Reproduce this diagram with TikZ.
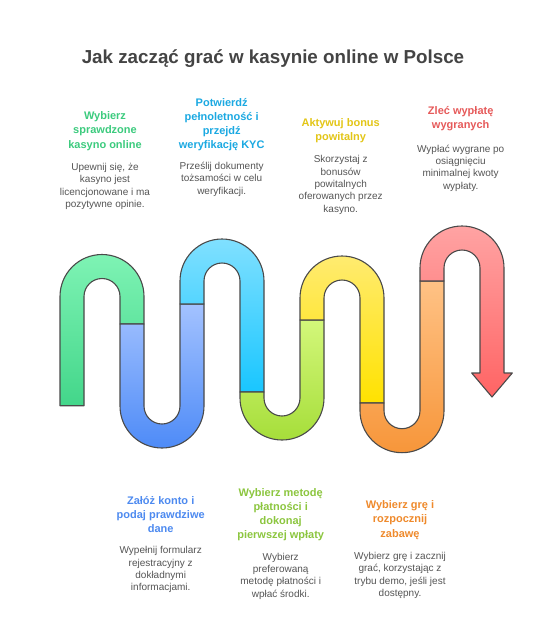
\documentclass[tikz,border=0pt]{standalone}
\usepackage{fontspec}
\setmainfont{Liberation Sans}
\definecolor{edge}{HTML}{4A4A4A}
\definecolor{ttl}{HTML}{444444}
\definecolor{desc}{HTML}{555555}
\definecolor{cgreen}{HTML}{3CCB7E}
\definecolor{ccyan}{HTML}{1BA9E2}
\definecolor{cyellow}{HTML}{E3C617}
\definecolor{cred}{HTML}{E65A5A}
\definecolor{cblue}{HTML}{4D8AF0}
\definecolor{clime}{HTML}{8CC63F}
\definecolor{corange}{HTML}{EF8A2C}
\definecolor{gT}{HTML}{7EF3B4}\definecolor{gB}{HTML}{43D68A}
\definecolor{bT}{HTML}{A3C2FF}\definecolor{bB}{HTML}{4E8BF7}
\definecolor{cT}{HTML}{80E0FF}\definecolor{cB}{HTML}{19C6FF}
\definecolor{lT}{HTML}{D3F77A}\definecolor{lB}{HTML}{A6DE3A}
\definecolor{yT}{HTML}{FFEB70}\definecolor{yB}{HTML}{FFE200}
\definecolor{oT}{HTML}{FFC285}\definecolor{oB}{HTML}{F7963A}
\definecolor{rT}{HTML}{FFA3A3}\definecolor{rB}{HTML}{FF6464}
\newcommand{\archseg}[6]{%
  \path[draw=edge, line width=1.1pt, line join=round, top color=#5, bottom color=#6]
    (#1-12,-#3) -- (#1-12,-#2) arc(180:0:42) -- (#1+72,-#4) -- (#1+48,-#4)
    -- (#1+48,-#2) arc(0:180:18) -- (#1+12,-#3) -- cycle;}
\newcommand{\useg}[6]{%
  \path[draw=edge, line width=1.1pt, line join=round, top color=#5, bottom color=#6]
    (#1-12,-#3) -- (#1-12,-#2) arc(180:360:42) -- (#1+72,-#4) -- (#1+48,-#4)
    -- (#1+48,-#2) arc(360:180:18) -- (#1+12,-#3) -- cycle;}
\tikzset{
  head/.style={align=center, font=\fontsize{11}{14.2}\selectfont\bfseries, inner sep=0pt},
  body/.style={align=center, font=\fontsize{10}{12.3}\selectfont, text=desc, inner sep=0pt}
}
\begin{document}
\begin{tikzpicture}[x=1pt,y=1pt]
\useasboundingbox[fill=white] (0,0) rectangle (546,-622);
% title
\node[font=\fontsize{18.8}{22}\selectfont\bfseries, text=ttl] (title) at (273,-59) {Jak zacząć grać w kasynie online w Polsce};
% snake
\archseg{72}{296.5}{405.7}{324}{gT}{gB}
\useg{132}{406}{324}{304}{bT}{bB}
\archseg{192}{281}{304}{392}{cT}{cB}
\useg{252}{398}{392}{320}{lT}{lB}
\archseg{312}{298}{320}{403}{yT}{yB}
\useg{372}{410.7}{403}{281}{oT}{oB}
\path[draw=edge, line width=1.1pt, line join=round, top color=rT, bottom color=rB]
  (420,-281) -- (420,-268) arc(180:0:42) -- (504,-373) -- (512.3,-373) -- (492,-397)
  -- (471.7,-373) -- (480,-373) -- (480,-268) arc(0:180:18) -- (444,-281) -- cycle;
% top labels
\node[head, text=cgreen] (h1) at (105,-131) {Wybierz\\sprawdzone\\kasyno online};
\node[body] (d1) at (105,-186.5) {Upewnij się, że\\kasyno jest\\licencjonowane i ma\\pozytywne opinie.};
\node[head, text=ccyan] (h2) at (221.7,-124.5) {Potwierdź\\pełnoletność i\\przejdź\\weryfikację KYC};
\node[body] (d2) at (221.7,-179.3) {Prześlij dokumenty\\tożsamości w celu\\weryfikacji.};
\node[head, text=cyellow] (h3) at (340.7,-130.5) {Aktywuj bonus\\powitalny};
\node[body] (d3) at (340.7,-185) {Skorzystaj z\\bonusów\\powitalnych\\oferowanych przez\\kasyno.};
\node[head, text=cred] (h4) at (460.7,-119) {Zleć wypłatę\\wygranych};
\node[body] (d4) at (460.7,-168) {Wypłać wygrane po\\osiągnięciu\\minimalnej kwoty\\wypłaty.};
% bottom labels
\node[head, text=cblue] (h5) at (160.7,-514.7) {Załóż konto i\\podaj prawdziwe\\dane};
\node[body] (d5) at (160.7,-569.8) {Wypełnij formularz\\rejestracyjny z\\dokładnymi\\informacjami.};
\node[head, text=clime] (h6) at (280.7,-514.5) {Wybierz metodę\\płatności i\\dokonaj\\pierwszej wpłaty};
\node[body] (d6) at (280.7,-576) {Wybierz\\preferowaną\\metodę płatności i\\wpłać środki.};
\node[head, text=corange] (h7) at (400,-520) {Wybierz grę i\\rozpocznij\\zabawę};
\node[body] (d7) at (400,-575.5) {Wybierz grę i zacznij\\grać, korzystając z\\trybu demo, jeśli jest\\dostępny.};
\end{tikzpicture}
\end{document}
